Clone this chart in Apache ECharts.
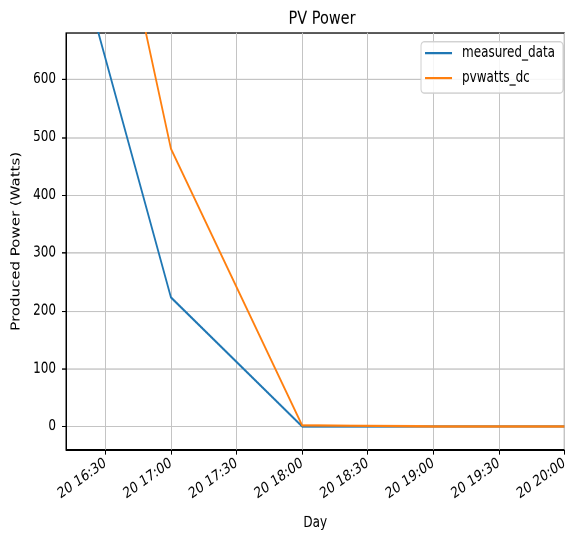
<!DOCTYPE html>
<html>
<head>
<meta charset="utf-8">
<script src="https://cdn.jsdelivr.net/npm/echarts@6/dist/echarts.min.js"></script>
<style>
html{margin:0;padding:0;background:#fff;overflow:hidden;width:570px;height:537px}
body{margin:0;padding:0;background:#fff;width:570px;height:537px}
/* the reference figure is stretched vertically (~1.25x); reproduce by scaling the chart box */
#c{width:570px;height:430px;transform:scaleY(1.2488);transform-origin:0 0}
</style>
</head>
<body>
<div id="c"></div>
<script>
// ---- data ----
const dayLabel = '20';
const times = ['16:00', '17:00', '18:00', '19:00', '20:00'];
const measuredData = [1050, 223, 0, 0, 0];
const pvwattsDc = [1530, 480, 2, 0, 0];
const xTickTimes = ['16:30', '17:00', '17:30', '18:00', '18:30', '19:00', '19:30', '20:00'];
const yTicks = [0, 100, 200, 300, 400, 500, 600];
const xRange = ['16:12', '20:00'];
const yRange = [-40, 680];

// minutes since midnight
function mins(hm) {
  const p = hm.split(':');
  return (+p[0]) * 60 + (+p[1]);
}
function pad(n) { return (n < 10 ? '0' : '') + n; }

const FONT = 'DejaVu Sans';
const chart = echarts.init(document.getElementById('c'), null, { renderer: 'canvas', devicePixelRatio: 2 });
chart.setOption({
  animation: false,
  backgroundColor: '#fff',
  title: {
    text: 'PV Power',
    left: 317, top: 2.5, textAlign: 'center',
    textStyle: { fontFamily: FONT, fontSize: 14.5, fontWeight: 'normal', color: '#000' }
  },
  legend: {
    orient: 'vertical',
    right: 7, top: 33.5,
    padding: [3, 8, 6, 4],
    itemGap: 8,
    itemWidth: 27, itemHeight: 2,
    icon: 'rect',
    backgroundColor: 'rgba(255,255,255,0.85)',
    borderColor: '#d0d0d0', borderWidth: 1, borderRadius: 3,
    textStyle: { fontFamily: FONT, fontSize: 12, color: '#000', padding: [0, 0, 0, 5] },
    data: ['measured_data', 'pvwatts_dc']
  },
  grid: {
    left: 66, right: 2, top: 26.4, bottom: 69.7,
    show: true, borderColor: '#000', borderWidth: 1, backgroundColor: 'transparent'
  },
  xAxis: {
    type: 'value',
    min: mins(xRange[0]), max: mins(xRange[1]),
    name: 'Day', nameLocation: 'middle', nameGap: 53,
    nameTextStyle: { fontFamily: FONT, fontSize: 12, color: '#000' },
    axisLine: { show: true, onZero: false, lineStyle: { color: '#000', width: 1 } },
    axisTick: { show: true, length: 4, lineStyle: { color: '#000' }, customValues: xTickTimes.map(mins) },
    axisLabel: {
      customValues: xTickTimes.map(mins),
      rotate: 30, margin: 10,
      fontFamily: FONT, fontSize: 12, color: '#000',
      formatter: function (v) {
        return dayLabel + ' ' + pad(Math.floor(v / 60)) + ':' + pad(v % 60);
      }
    },
    splitLine: { show: true, lineStyle: { color: '#c4c4c4', width: 1 } }
  },
  yAxis: {
    type: 'value',
    min: yRange[0], max: yRange[1],
    name: 'Produced Power (Watts)', nameLocation: 'middle', nameGap: 41,
    nameTextStyle: { fontFamily: FONT, fontSize: 12, color: '#000' },
    axisLine: { show: true, onZero: false, lineStyle: { color: '#000', width: 1 } },
    axisTick: { show: true, length: 4, lineStyle: { color: '#000' }, customValues: yTicks },
    axisLabel: { customValues: yTicks, margin: 10, fontFamily: FONT, fontSize: 12, color: '#000' },
    splitLine: { show: true, lineStyle: { color: '#c4c4c4', width: 1 } }
  },
  series: [
    {
      name: 'measured_data', type: 'line', symbol: 'none', clip: true,
      color: '#1f77b4', lineStyle: { width: 1.8, color: '#1f77b4' },
      data: times.map((t, i) => [mins(t), measuredData[i]])
    },
    {
      name: 'pvwatts_dc', type: 'line', symbol: 'none', clip: true,
      color: '#ff7f0e', lineStyle: { width: 1.8, color: '#ff7f0e' },
      data: times.map((t, i) => [mins(t), pvwattsDc[i]])
    }
  ]
});
</script>
</body>
</html>
